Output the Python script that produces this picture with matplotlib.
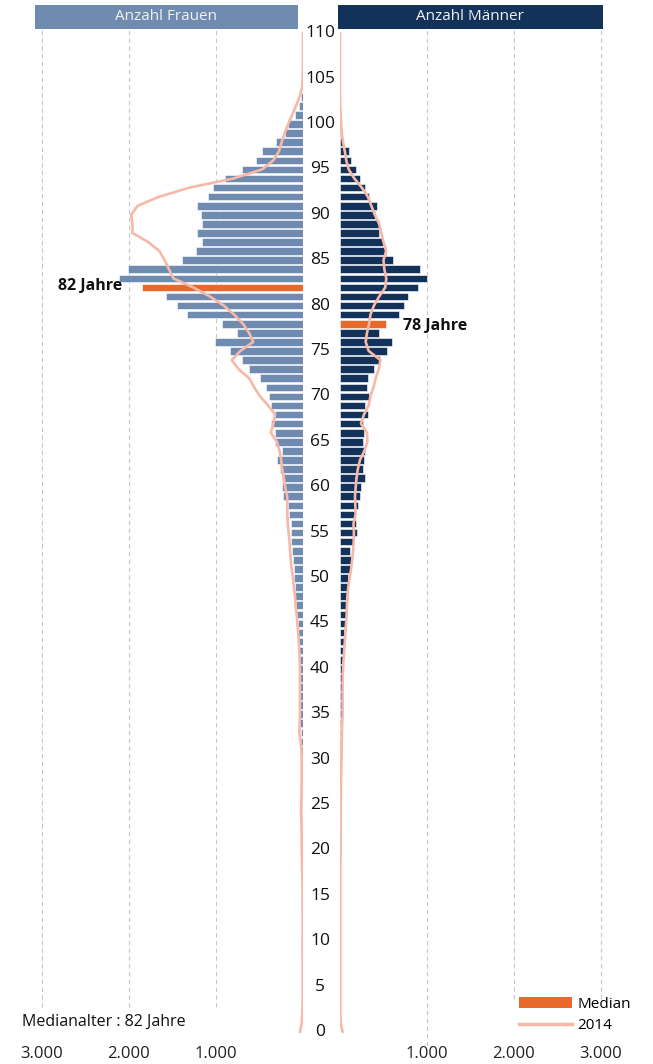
import numpy as np
import matplotlib.pyplot as plt
from matplotlib.patches import Rectangle, Patch
from matplotlib.lines import Line2D
import matplotlib.transforms as mtransforms

plt.rcParams['font.family'] = ['Open Sans', 'DejaVu Sans']

# ages 0..110
ages = np.arange(0, 111)

# Frauen, Anzahl je Altersjahr (0..110)
frauen = [5, 5, 5, 5, 5, 5, 5, 5, 5, 5,
          5, 5, 5, 5, 5, 5, 5, 5, 5, 6,
          6, 7, 8, 8, 9, 10, 11, 12, 13, 14,
          15, 18, 20, 28, 30, 34, 34, 34, 36, 38,
          40, 42, 45, 50, 55, 60, 75, 80, 90, 92,
          100, 100, 119, 123, 142, 142, 142, 161, 169, 226,
          241, 241, 268, 303, 245, 318, 318, 371, 322, 364,
          395, 421, 494, 617, 701, 835, 1011, 757, 931, 1330,
          1448, 1575, 1851, 2111, 2015, 1387, 1230, 1165, 1218, 1165,
          1172, 1222, 1095, 1034, 897, 705, 540, 471, 314, 207,
          172, 92, 46, 23, 0, 0, 0, 0, 0, 0, 0]

# Maenner, Anzahl je Altersjahr (0..110)
maenner = [4, 4, 4, 4, 4, 4, 4, 4, 4, 4,
           4, 4, 4, 4, 4, 4, 4, 4, 5, 5,
           6, 6, 6, 6, 7, 7, 7, 7, 8, 9,
           10, 12, 15, 18, 20, 23, 23, 25, 26, 28,
           31, 35, 40, 45, 50, 57, 70, 80, 90, 96,
           96, 115, 126, 119, 153, 199, 180, 172, 211, 226,
           238, 284, 261, 280, 287, 268, 276, 261, 318, 287,
           330, 307, 318, 387, 460, 536, 598, 445, 529, 674,
           736, 782, 897, 1004, 920, 613, 529, 498, 452, 452,
           402, 422, 330, 291, 230, 184, 123, 100, 31, 23,
           8, 0, 0, 0, 0, 0, 0, 0, 0, 0, 0]

# Bestand 2014 (Linie)
frauen_2014 = [35, 15, 8, 5, 4, 4, 4, 4, 4, 5,
               5, 4, 4, 4, 5, 5, 6, 8, 10, 12,
               15, 15, 15, 18, 23, 22, 18, 16, 15, 15,
               15, 18, 28, 42, 38, 34, 34, 34, 34, 34,
               35, 38, 42, 48, 55, 65, 73, 85, 92, 105,
               115, 130, 142, 148, 155, 165, 175, 180, 180, 182,
               205, 220, 240, 250, 270, 300, 370, 340, 320, 400,
               494, 560, 620, 740, 820, 720, 572, 620, 690, 790,
               910, 1069, 1261, 1490, 1540, 1590, 1650, 1780, 1960, 1960,
               1975, 1900, 1650, 1300, 800, 470, 340, 276, 245, 210,
               170, 125, 80, 40, 10, 5, 2, 0, 0, 0, 0]

maenner_2014 = [30, 8, 4, 4, 4, 4, 4, 4, 4, 4,
                4, 4, 4, 4, 4, 4, 4, 4, 4, 5,
                5, 5, 6, 7, 8, 8, 10, 10, 12, 15,
                17, 19, 20, 22, 25, 30, 30, 30, 31, 32,
                35, 40, 48, 55, 62, 70, 77, 80, 85, 95,
                110, 128, 140, 150, 158, 160, 155, 180, 176, 172,
                180, 190, 205, 230, 280, 315, 310, 241, 275, 330,
                350, 385, 410, 445, 465, 330, 295, 310, 335, 350,
                390, 450, 520, 532, 510, 500, 530, 500, 475, 450,
                400, 360, 320, 250, 165, 100, 72, 55, 35, 20,
                12, 8, 3, 0, 0, 0, 0, 0, 0, 0, 0]

median_frauen = 82
median_maenner = 78

xticks = [1000, 2000, 3000]
xticklabels = ['1.000', '2.000', '3.000']
age_ticks = np.arange(0, 111, 5)

C_FRAU = '#6f8bb0'
C_MANN = '#13325a'
C_MEDIAN = '#e9692c'
C_2014 = '#f7b8a8'
C_GRID = '#c8c8c8'

W, H = 653, 1064
fig = plt.figure(figsize=(W / 100, H / 100), dpi=100)

px = 9.08  # pixel je Altersjahr
y0 = 1032  # pixel fuer Alter 0
ylo, yhi = -1.5, 110.4
ax_bottom = (H - (y0 - ylo * px)) / H
ax_height = (yhi - ylo) * px / H

axL = fig.add_axes([35 / W, ax_bottom, 268 / W, ax_height])
axR = fig.add_axes([340 / W, ax_bottom, 263 / W, ax_height])
axL.set_xlim(3080, 0)
axR.set_xlim(0, 3023)

colsL = [C_MEDIAN if a == median_frauen else C_FRAU for a in ages]
colsR = [C_MEDIAN if a == median_maenner else C_MANN for a in ages]

axL.barh(ages, frauen, height=0.84, color=colsL, edgecolor='white', linewidth=0.4, zorder=2)
axR.barh(ages, maenner, height=0.84, color=colsR, edgecolor='white', linewidth=0.4, zorder=2)
axL.plot(frauen_2014, ages, color=C_2014, lw=1.9, zorder=3, solid_capstyle='round', solid_joinstyle='round')
axR.plot(maenner_2014, ages, color=C_2014, lw=1.9, zorder=3, solid_capstyle='round', solid_joinstyle='round')

# gestrichelte Gitterlinien
for x in xticks:
    axL.vlines(x, 2.75, yhi, color=C_GRID, lw=0.8, linestyles=(0, (4, 3)), zorder=0)
axR.vlines(1000, ylo, yhi, color=C_GRID, lw=0.8, linestyles=(0, (4, 3)), zorder=0)
axR.vlines([2000, 3000], 3.6, yhi, color=C_GRID, lw=0.8, linestyles=(0, (4, 3)), zorder=0)

for ax in (axL, axR):
    ax.set_ylim(ylo, yhi)
    ax.set_yticks([])
    ax.set_xticks(xticks)
    ax.set_xticklabels(xticklabels, fontsize=12)
    ax.tick_params(axis='x', length=0, pad=0, colors='#222222')
    for s in ax.spines.values():
        s.set_visible(False)
    ax.patch.set_alpha(0)

# Alter in der Mitte
trans = mtransforms.blended_transform_factory(fig.transFigure, axL.transData)
for a in age_ticks:
    fig.text(320 / W, a, str(a), transform=trans, ha='center', va='center',
             fontsize=12.5, color='#111111')

# Median-Beschriftungen
axL.text(frauen[median_frauen] + 230, median_frauen + 0.2, '82 Jahre', ha='right', va='center',
         fontsize=11.5, fontweight='bold', color='#111111')
axR.text(maenner[median_maenner] + 190, median_maenner - 0.2, '78 Jahre', ha='left', va='center',
         fontsize=11.5, fontweight='bold', color='#111111')

# Kopfzeilen
fig.patches.append(Rectangle((35 / W, 1 - 29 / H), 263 / W, 24 / H, transform=fig.transFigure,
                             facecolor=C_FRAU, edgecolor='none'))
fig.patches.append(Rectangle((338 / W, 1 - 29 / H), 265 / W, 24 / H, transform=fig.transFigure,
                             facecolor=C_MANN, edgecolor='none'))
fig.text(166 / W, 1 - 17 / H, 'Anzahl Frauen', ha='center', va='center', fontsize=11, color='#f2f2f2')
fig.text(470 / W, 1 - 17 / H, 'Anzahl Männer', ha='center', va='center', fontsize=11, color='#f2f2f2')

fig.text(22 / W, 1 - 1022 / H, 'Medianalter : 82 Jahre', ha='left', va='center', fontsize=11.5, color='#111111')

handles = [Patch(facecolor=C_MEDIAN, edgecolor='none'),
           Line2D([0], [0], color=C_2014, lw=2.5)]
fig.legend(handles, ['Median', '2014'], loc='center left', bbox_to_anchor=(519 / W, 1 - 1015 / H),
           frameon=False, fontsize=11, handlelength=3.5, handleheight=0.75, labelspacing=0.45,
           handletextpad=0.3, borderpad=0, borderaxespad=0)

fig.savefig('out.png', dpi=100)
